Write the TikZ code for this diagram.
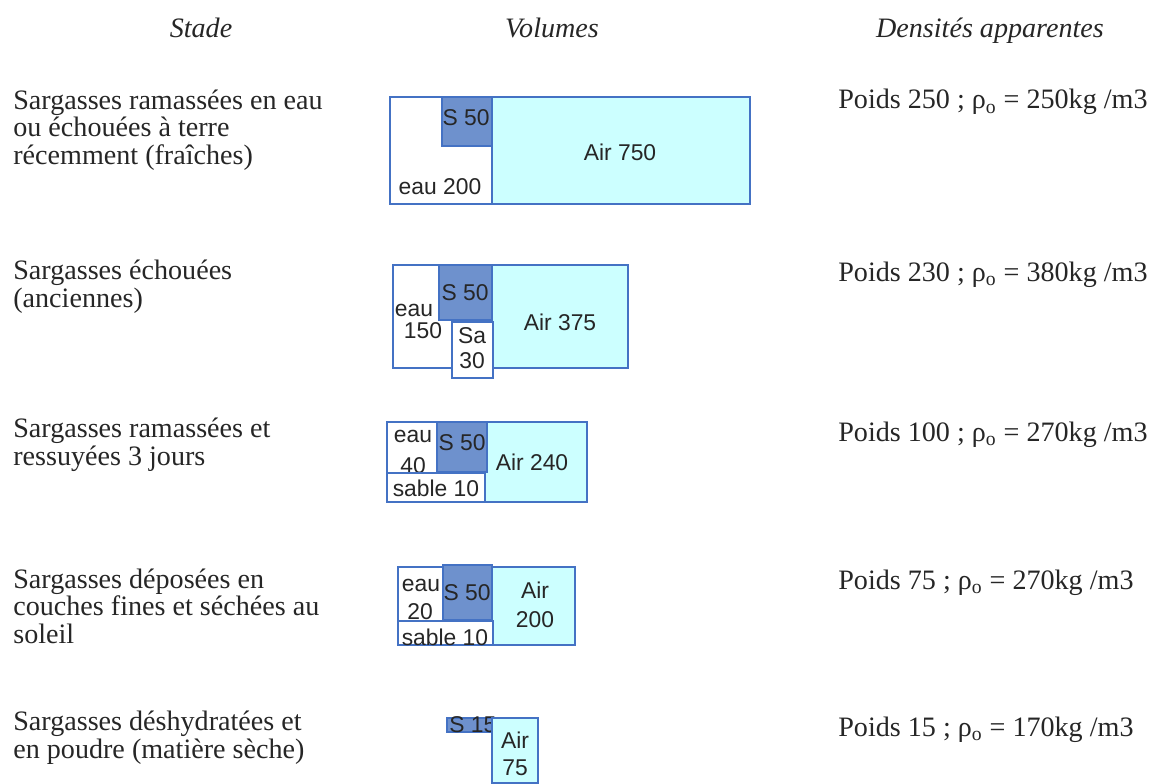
\documentclass[tikz,border=0pt]{standalone}
\usepackage{fontspec}
\setmainfont{Liberation Serif}
\newfontfamily\arialfam{Liberation Sans}
\usepackage{tikz}
\usetikzlibrary{positioning}

\definecolor{rimblue}{RGB}{68,114,196}
\definecolor{sargblue}{RGB}{110,145,205}
\definecolor{aircyan}{RGB}{204,255,255}

\newcommand\stagefont{\fontsize{16}{15.4}\selectfont}
\newcommand\headfont{\itshape\fontsize{16}{18}\selectfont}
\newcommand\volfont{\arialfam\fontsize{13}{14}\selectfont}

\begin{document}
\begin{tikzpicture}    [x=0.02cm,y=-0.02cm,
      stage/.style={anchor=base west,align=left,inner sep=0pt,font=\stagefont,text=black!85},
      dens/.style={anchor=base west,inner sep=0pt,font=\stagefont,text=black!85},
      head/.style={anchor=base,inner sep=0pt,font=\headfont,text=black!85},
      vol/.style={inner sep=0pt,font=\volfont,text=black!85},
      rim/.style={draw=rimblue,line width=1.3pt},
      air/.style={rim,fill=aircyan},
      sarg/.style={rim,fill=sargblue},
      wat/.style={rim,fill=white}]
      \useasboundingbox (0,0) rectangle (1166,784);

      \node[head] (stade) at (201,38) 	{Stade};
      \node[head] (volumes) at (552,38) 	{Volumes};
      \node[head] (densites) at (990,38) 	{Densités apparentes};

      % base = last line
      \node[stage] (fraiches) at (13,164) 	{Sargasses ramassées en eau\\ou échouées à terre\\récemment (fraîches)};
      \node[stage] (anciennes) at (13,307) 	{Sargasses échouées\\(anciennes)};
      \node[stage] (ressuyees) at (13,465) 	{Sargasses ramassées et\\ressuyées 3 jours};
      \node[stage] (sechees) at (13,643) 	{Sargasses déposées en\\couches fines et séchées au\\soleil};
      \node[stage] (poudre) at (13,758) 	{Sargasses déshydratées et\\en poudre (matière sèche)};

      \foreach \n/\y/\p/\r in {1/109/250/250,2/281/230/380,3/441/100/270,4/589/75/270,5/736/15/170}
	\node[dens] (poids\n) at (838,\y) {Poids \p\ ; ρ\textsubscript{o} = \r kg /m3};

      % fraiches
      \draw[wat] (390,97) rectangle (750,204);
      \draw[air] (492,97) rectangle (750,204);
      \draw[sarg] (442,97) rectangle (492,146);
      \node[vol] (sarg1) at (466,118) 	{S 50};
      \node[vol] (air1) at (620,152) 	{Air 750};
      \node[vol] (eau1) at (440,187) 	{eau 200};

      % anciennes
      \draw[wat] (393,265) rectangle (628,368);
      \draw[air] (492,265) rectangle (628,368);
      \draw[sarg] (439,265) rectangle (492,320);
      \draw[wat] (452,322) rectangle (493,378);
      \node[vol] (eau2) at (414,310) 	{eau};
      \node[vol] (eauval2) at (423,331) 	{150};
      \node[vol] (sarg2) at (465,293) 	{S 50};
      \node[vol] (air2) at (560,322) 	{Air 375};
      \node[vol] (sable2) at (472,336) 	{Sa};
      \node[vol] (sableval2) at (472,361) 	{30};

      % ressuyees
      \draw[air] (387,422) rectangle (587,502);
      \draw[wat] (387,422) rectangle (437,473);
      \node[vol] (eau3) at (413,436) 	{eau};
      \node[vol] (eauval3) at (413,466) 	{40};
      \draw[wat] (387,473) rectangle (485,502);
      \draw[sarg] (437,422) rectangle (487,472);
      \node[vol] (sarg3) at (462,443) 	{S 50};
      \node[vol] (air3) at (532,462) 	{Air 240};
      \node[vol] (sable3) at (436,488) 	{sable 10};

      % sechees
      \draw[air] (398,567) rectangle (575,645);
      \draw[wat] (398,567) rectangle (443,621);
      \node[vol] (eau4) at (421,585) 	{eau};
      \node[vol] (eauval4) at (420,612) 	{20};
      \draw[wat] (398,621) rectangle (493,645);
      \draw[sarg] (443,565) rectangle (492,620);
      \node[vol] (sarg4) at (467,593) 	{S 50};
      \node[vol] (air4) at (535,590) 	{Air};
      \node[vol] (airval4) at (535,620) 	{200};
      \node[vol] (sable4) at (445,637) 	{sable 10};

      % poudre
      \draw[sarg] (447,718) rectangle (492,732);
      \node[vol,anchor=west] (sarg5) at (449,725) 	{S 15};
      \draw[air] (492,718) rectangle (538,783);
      \node[vol] (air5) at (515,740) 	{Air};
      \node[vol] (airval5) at (515,768) 	{75};

    \end{tikzpicture}
\end{document}
